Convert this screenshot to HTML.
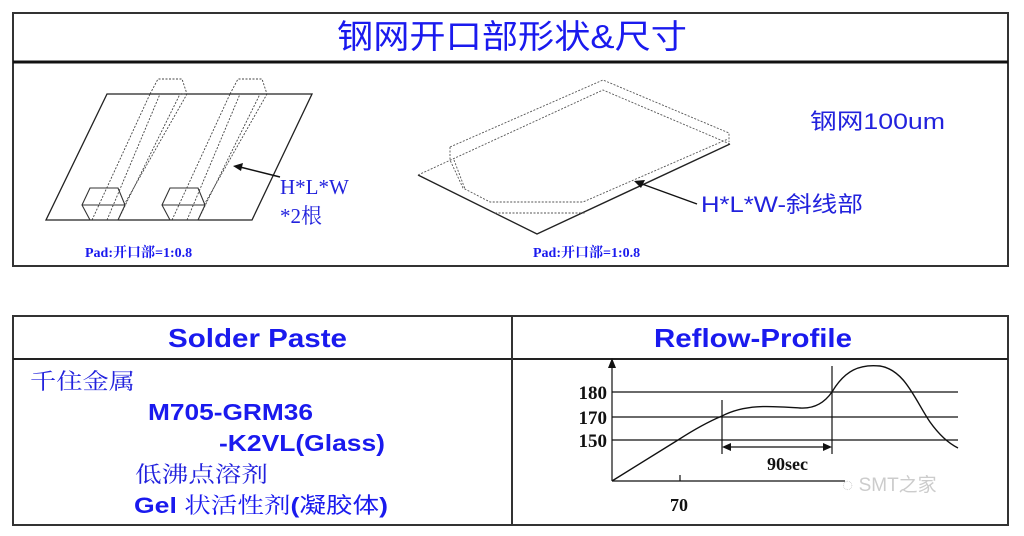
<!DOCTYPE html>
<html><head><meta charset="utf-8"><style>
html,body{margin:0;padding:0;background:#fff;width:1024px;height:536px;overflow:hidden}
svg{display:block}
.cj{font-family:"Liberation Sans","Noto Sans CJK SC",sans-serif}
.sr{font-family:"Liberation Serif","Noto Serif CJK SC",serif}
</style></head><body>
<svg width="1024" height="536" viewBox="0 0 1024 536" xmlns="http://www.w3.org/2000/svg">
<rect x="13" y="13" width="995" height="253" fill="none" stroke="#333" stroke-width="2"/>
<line x1="13" y1="62" x2="1008" y2="62" stroke="#111" stroke-width="3"/>
<text x="512" y="48" text-anchor="middle" class="cj" font-size="33" fill="#1a1aee" textLength="350" lengthAdjust="spacingAndGlyphs">钢网开口部形状&amp;尺寸</text>

<g fill="none" stroke="#222" stroke-width="1.3">
<polygon points="107,94 312,94 252,220 46,220"/>
</g>
<g fill="none" stroke="#444" stroke-width="0.9" stroke-dasharray="2,1.5">
<path d="M150,94 L158,79 L182,79 L187,94 L180,94"/>
<path d="M92,220 L150,94 M107,220 L160,94 M118,220 L180,94 M124,205 L187,94"/>
<path d="M230,94 L238,79 L262,79 L267,94"/>
<path d="M172,220 L230,94 M187,220 L240,94 M198,220 L260,94 M204,205 L267,94"/>
</g>
<g fill="none" stroke="#333" stroke-width="1.1">
<path d="M82,205 L90,188 L118,188 L125,205 L118,220 L90,220 Z M82,205 L125,205"/>
<path d="M162,205 L170,188 L198,188 L205,205 L198,220 L170,220 Z M162,205 L205,205"/>
</g>
<line x1="280" y1="177" x2="240" y2="167" stroke="#111" stroke-width="1.5"/>
<polygon points="233,166 243,163 241,171" fill="#111"/>
<text x="280" y="194" class="sr" font-size="21" fill="#2222dd">H*L*W</text>
<text x="280" y="223" class="sr" font-size="21" fill="#2222dd">*2根</text>
<text x="85" y="257" class="sr" font-size="14" font-weight="bold" fill="#1a1aee">Pad:开口部=1:0.8</text>

<polyline points="418,175 537,234 730,144" fill="none" stroke="#222" stroke-width="1.4"/>
<g fill="none" stroke="#555" stroke-width="0.9" stroke-dasharray="2,1.5">
<polyline points="418,175 603,90 730,144"/>
<polyline points="450,147 603,80 729,133 729,142"/>
<polyline points="450,147 450,160 463,188 490,202 583,202 728,139"/>
<polyline points="454,160 465,189"/>
<line x1="495" y1="213" x2="585" y2="213"/>
</g>
<line x1="697" y1="204" x2="642" y2="184" stroke="#111" stroke-width="1.4"/>
<polygon points="634,181 645,180 641,188" fill="#111"/>
<text x="701" y="212" class="cj" font-size="22" fill="#2222dd" textLength="162" lengthAdjust="spacingAndGlyphs">H*L*W-斜线部</text>
<text x="810" y="129" class="cj" font-size="22" fill="#2222dd" textLength="135" lengthAdjust="spacingAndGlyphs">钢网100um</text>
<text x="533" y="257" class="sr" font-size="14" font-weight="bold" fill="#1a1aee">Pad:开口部=1:0.8</text>

<rect x="13" y="316" width="995" height="209" fill="none" stroke="#333" stroke-width="2"/>
<line x1="13" y1="359" x2="1008" y2="359" stroke="#222" stroke-width="2"/>
<line x1="512" y1="316" x2="512" y2="525" stroke="#333" stroke-width="2"/>
<text x="168" y="347" class="cj" font-size="26" font-weight="bold" fill="#1a1aee" textLength="179" lengthAdjust="spacingAndGlyphs">Solder Paste</text>
<text x="654" y="347" class="cj" font-size="26" font-weight="bold" fill="#1a1aee" textLength="198" lengthAdjust="spacingAndGlyphs">Reflow-Profile</text>
<text x="30" y="389" class="sr" font-size="22" fill="#2222dd" textLength="105" lengthAdjust="spacingAndGlyphs">千住金属</text>
<text x="148" y="420" class="cj" font-size="23" font-weight="bold" fill="#1a1aee" textLength="165" lengthAdjust="spacingAndGlyphs">M705-GRM36</text>
<text x="219" y="451" class="cj" font-size="23" font-weight="bold" fill="#1a1aee" textLength="166" lengthAdjust="spacingAndGlyphs">-K2VL(Glass)</text>
<text x="135" y="482" class="sr" font-size="22" fill="#2222dd" textLength="133" lengthAdjust="spacingAndGlyphs">低沸点溶剂</text>
<text x="134" y="513" class="cj" font-size="22" font-weight="bold" fill="#1a1aee" textLength="254" lengthAdjust="spacingAndGlyphs">Gel <tspan font-weight="normal" class="sr">状活性剂</tspan>(<tspan font-weight="normal">凝胶体</tspan>)</text>

<g stroke="#111" fill="none" stroke-width="1.2">
<line x1="612" y1="481" x2="612" y2="364"/>
<line x1="612" y1="481" x2="845" y2="481"/>
<line x1="680" y1="475" x2="680" y2="481"/>
<line x1="612" y1="392" x2="958" y2="392"/>
<line x1="612" y1="417" x2="958" y2="417"/>
<line x1="612" y1="440" x2="958" y2="440"/>
<line x1="722" y1="400" x2="722" y2="454"/>
<line x1="832" y1="366" x2="832" y2="454"/>
<line x1="727" y1="447" x2="827" y2="447"/>
<path d="M612,481 L678,440 C695,429 710,421 722,416 C745,404 770,406 800,408 C815,409 825,402 832,392 C845,370 860,364 880,366 C905,370 915,400 930,422 C940,436 950,444 958,448" stroke-width="1.4"/>
</g>
<polygon points="612,358 608,368 616,368" fill="#111"/>
<polygon points="722,447 731,443 731,451" fill="#111"/>
<polygon points="832,447 823,443 823,451" fill="#111"/>
<g class="sr" font-size="19" font-weight="bold" fill="#111" text-anchor="end">
<text x="607" y="399">180</text>
<text x="607" y="424">170</text>
<text x="607" y="447">150</text>
</g>
<text x="767" y="470" class="sr" font-size="18" font-weight="bold" fill="#111">90sec</text>
<text x="670" y="511" class="sr" font-size="18" font-weight="bold" fill="#111">70</text>
<text x="842" y="491" class="cj" font-size="19" fill="#ccc">◌ SMT之家</text>
</svg>
</body></html>
